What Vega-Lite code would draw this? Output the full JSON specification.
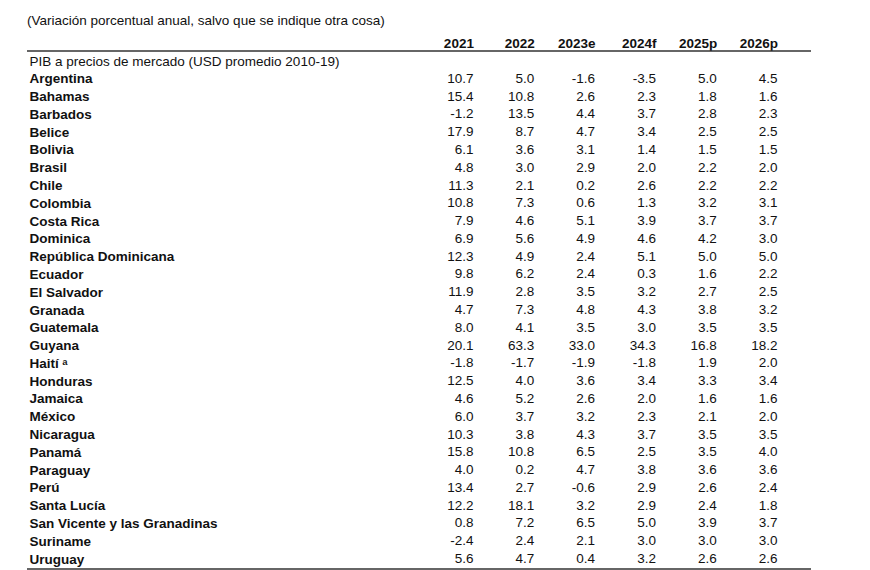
{
  "$schema": "https://vega.github.io/schema/vega-lite/v6.json",
  "width": 784,
  "height": 518,
  "autosize": {"type": "none"},
  "padding": {"left": 27, "right": 59, "top": 52, "bottom": 0},
  "background": "white",
  "title": {
    "text": "(Variación porcentual anual, salvo que se indique otra cosa)",
    "anchor": "start",
    "frame": "group",
    "font": "Liberation Sans",
    "fontSize": 13.5,
    "fontWeight": "normal",
    "color": "#111111",
    "baseline": "bottom",
    "offset": -5
  },
  "config": {
    "view": {"stroke": null},
    "locale": {
      "number": {"decimal": ".", "thousands": ",", "grouping": [3], "currency": ["$", ""], "minus": "-"}
    },
    "text": {"font": "Liberation Sans", "fontSize": 13.5, "color": "#111111"}
  },
  "datasets": {
    "tabla": [
      {"pais": "Argentina", "2021": 10.7, "2022": 5.0, "2023e": -1.6, "2024f": -3.5, "2025p": 5.0, "2026p": 4.5},
      {"pais": "Bahamas", "2021": 15.4, "2022": 10.8, "2023e": 2.6, "2024f": 2.3, "2025p": 1.8, "2026p": 1.6},
      {"pais": "Barbados", "2021": -1.2, "2022": 13.5, "2023e": 4.4, "2024f": 3.7, "2025p": 2.8, "2026p": 2.3},
      {"pais": "Belice", "2021": 17.9, "2022": 8.7, "2023e": 4.7, "2024f": 3.4, "2025p": 2.5, "2026p": 2.5},
      {"pais": "Bolivia", "2021": 6.1, "2022": 3.6, "2023e": 3.1, "2024f": 1.4, "2025p": 1.5, "2026p": 1.5},
      {"pais": "Brasil", "2021": 4.8, "2022": 3.0, "2023e": 2.9, "2024f": 2.0, "2025p": 2.2, "2026p": 2.0},
      {"pais": "Chile", "2021": 11.3, "2022": 2.1, "2023e": 0.2, "2024f": 2.6, "2025p": 2.2, "2026p": 2.2},
      {"pais": "Colombia", "2021": 10.8, "2022": 7.3, "2023e": 0.6, "2024f": 1.3, "2025p": 3.2, "2026p": 3.1},
      {"pais": "Costa Rica", "2021": 7.9, "2022": 4.6, "2023e": 5.1, "2024f": 3.9, "2025p": 3.7, "2026p": 3.7},
      {"pais": "Dominica", "2021": 6.9, "2022": 5.6, "2023e": 4.9, "2024f": 4.6, "2025p": 4.2, "2026p": 3.0},
      {"pais": "República Dominicana", "2021": 12.3, "2022": 4.9, "2023e": 2.4, "2024f": 5.1, "2025p": 5.0, "2026p": 5.0},
      {"pais": "Ecuador", "2021": 9.8, "2022": 6.2, "2023e": 2.4, "2024f": 0.3, "2025p": 1.6, "2026p": 2.2},
      {"pais": "El Salvador", "2021": 11.9, "2022": 2.8, "2023e": 3.5, "2024f": 3.2, "2025p": 2.7, "2026p": 2.5},
      {"pais": "Granada", "2021": 4.7, "2022": 7.3, "2023e": 4.8, "2024f": 4.3, "2025p": 3.8, "2026p": 3.2},
      {"pais": "Guatemala", "2021": 8.0, "2022": 4.1, "2023e": 3.5, "2024f": 3.0, "2025p": 3.5, "2026p": 3.5},
      {"pais": "Guyana", "2021": 20.1, "2022": 63.3, "2023e": 33.0, "2024f": 34.3, "2025p": 16.8, "2026p": 18.2},
      {"pais": "Haití ᵃ", "2021": -1.8, "2022": -1.7, "2023e": -1.9, "2024f": -1.8, "2025p": 1.9, "2026p": 2.0},
      {"pais": "Honduras", "2021": 12.5, "2022": 4.0, "2023e": 3.6, "2024f": 3.4, "2025p": 3.3, "2026p": 3.4},
      {"pais": "Jamaica", "2021": 4.6, "2022": 5.2, "2023e": 2.6, "2024f": 2.0, "2025p": 1.6, "2026p": 1.6},
      {"pais": "México", "2021": 6.0, "2022": 3.7, "2023e": 3.2, "2024f": 2.3, "2025p": 2.1, "2026p": 2.0},
      {"pais": "Nicaragua", "2021": 10.3, "2022": 3.8, "2023e": 4.3, "2024f": 3.7, "2025p": 3.5, "2026p": 3.5},
      {"pais": "Panamá", "2021": 15.8, "2022": 10.8, "2023e": 6.5, "2024f": 2.5, "2025p": 3.5, "2026p": 4.0},
      {"pais": "Paraguay", "2021": 4.0, "2022": 0.2, "2023e": 4.7, "2024f": 3.8, "2025p": 3.6, "2026p": 3.6},
      {"pais": "Perú", "2021": 13.4, "2022": 2.7, "2023e": -0.6, "2024f": 2.9, "2025p": 2.6, "2026p": 2.4},
      {"pais": "Santa Lucía", "2021": 12.2, "2022": 18.1, "2023e": 3.2, "2024f": 2.9, "2025p": 2.4, "2026p": 1.8},
      {"pais": "San Vicente y las Granadinas", "2021": 0.8, "2022": 7.2, "2023e": 6.5, "2024f": 5.0, "2025p": 3.9, "2026p": 3.7},
      {"pais": "Suriname", "2021": -2.4, "2022": 2.4, "2023e": 2.1, "2024f": 3.0, "2025p": 3.0, "2026p": 3.0},
      {"pais": "Uruguay", "2021": 5.6, "2022": 4.7, "2023e": 0.4, "2024f": 3.2, "2025p": 2.6, "2026p": 2.6}
    ]
  },
  "layer": [
    {
      "data": {"name": "tabla"},
      "transform": [
        {"fold": ["2021", "2022", "2023e", "2024f", "2025p", "2026p"], "as": ["anio", "valor"]}
      ],
      "mark": {"type": "text", "align": "right", "baseline": "middle"},
      "encoding": {
        "x": {
          "field": "anio",
          "type": "nominal",
          "scale": {"type": "point", "domain": ["2021", "2022", "2023e", "2024f", "2025p", "2026p"], "range": [416, 781]},
          "axis": {
            "orient": "top",
            "title": null,
            "domain": false,
            "ticks": false,
            "tickSize": 0,
            "labelAngle": 0,
            "labelAlign": "right",
            "labelBaseline": "alphabetic",
            "labelPadding": 5,
            "labelFont": "Liberation Sans",
            "labelFontSize": 13.5,
            "labelFontWeight": "bold",
            "labelColor": "#111111",
            "labelOverlap": false,
            "grid": false
          }
        },
        "y": {
          "field": "pais",
          "type": "nominal",
          "scale": {
            "type": "point",
            "padding": 0,
            "range": [9, 507],
            "domain": ["PIB a precios de mercado (USD promedio 2010-19)", "Argentina", "Bahamas", "Barbados", "Belice", "Bolivia", "Brasil", "Chile", "Colombia", "Costa Rica", "Dominica", "República Dominicana", "Ecuador", "El Salvador", "Granada", "Guatemala", "Guyana", "Haití ᵃ", "Honduras", "Jamaica", "México", "Nicaragua", "Panamá", "Paraguay", "Perú", "Santa Lucía", "San Vicente y las Granadinas", "Suriname", "Uruguay"]
          },
          "axis": {
            "orient": "left",
            "title": null,
            "domain": false,
            "ticks": false,
            "tickSize": 0,
            "labelAlign": "left",
            "labelBaseline": "middle",
            "labelPadding": -2,
            "labelLimit": 500,
            "labelFont": "Liberation Sans",
            "labelFontSize": 13.5,
            "labelFontWeight": {
              "condition": {"test": "indexof(datum.value, 'PIB') === 0", "value": "normal"},
              "value": "bold"
            },
            "labelColor": "#111111",
            "labelOverlap": false,
            "grid": false
          }
        },
        "text": {"field": "valor", "type": "quantitative", "format": ".1f"}
      }
    },
    {
      "data": {"values": [{}]},
      "mark": {"type": "rule", "color": "#333333", "strokeWidth": 1.5, "yOffset": -10},
      "encoding": {"y": {"datum": "PIB a precios de mercado (USD promedio 2010-19)"}}
    },
    {
      "data": {"values": [{}]},
      "mark": {"type": "rule", "color": "#333333", "strokeWidth": 1.5, "yOffset": 10},
      "encoding": {"y": {"datum": "Uruguay"}}
    }
  ]
}
